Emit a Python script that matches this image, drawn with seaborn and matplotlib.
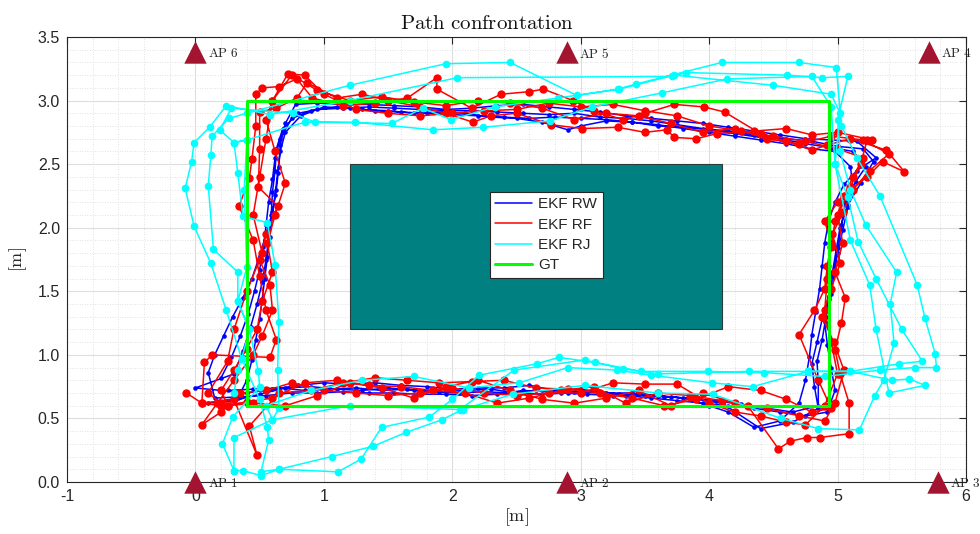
import numpy as np
import pandas as pd
import matplotlib
matplotlib.use("Agg")
import matplotlib.pyplot as plt
import matplotlib.patches as mpatches
from matplotlib.lines import Line2D
from matplotlib.ticker import MultipleLocator
import seaborn as sns

# ---------------- data ----------------
# EKF RW (blue) - four laps
rw_lap1_x = [0.25, 0.45, 0.65, 0.85, 1.05, 1.25, 1.45, 1.65, 1.85, 2.05, 2.25, 2.45, 2.65, 2.85, 3.05, 3.25, 3.45, 3.65, 3.85, 4.05, 4.25, 4.45, 4.65, 4.85,
             4.85, 4.84, 4.88, 4.91, 4.95, 4.98, 5.0, 5.03, 5.06, 5.14, 5.22,
             5.12, 4.95, 4.75, 4.55, 4.35, 4.15, 3.95, 3.75, 3.55, 3.35, 3.15, 2.95, 2.75, 2.55, 2.35, 2.15, 1.95, 1.75, 1.55, 1.35, 1.15, 0.95, 0.8,
             0.68, 0.63, 0.62, 0.6, 0.59, 0.57, 0.55, 0.52, 0.48, 0.43, 0.37, 0.3]
rw_lap1_y = [0.72, 0.73, 0.74, 0.72, 0.73, 0.74, 0.72, 0.73, 0.71, 0.70, 0.71, 0.70, 0.72, 0.70, 0.69, 0.68, 0.69, 0.67, 0.66, 0.64, 0.61, 0.58, 0.55, 0.60,
             0.78, 0.95, 1.12, 1.3, 1.48, 1.66, 1.84, 2.02, 2.2, 2.36, 2.48,
             2.6, 2.63, 2.66, 2.7, 2.73, 2.76, 2.78, 2.81, 2.84, 2.86, 2.87, 2.9, 2.89, 2.9, 2.91, 2.92, 2.92, 2.93, 2.94, 2.95, 2.94, 2.93, 2.9,
             2.78, 2.62, 2.45, 2.28, 2.1, 1.92, 1.75, 1.57, 1.4, 1.22, 1.03, 0.85]
rw_lap2_x = [0.0, 0.2, 0.4, 0.6, 0.8, 1.0, 1.2, 1.4, 1.6, 1.8, 2.0, 2.2, 2.4, 2.6, 2.8, 3.0, 3.2, 3.4, 3.6, 3.8, 4.0, 4.15, 4.35, 4.55, 4.7,
             4.75, 4.78, 4.8, 4.83, 4.86, 4.88, 4.9, 4.93, 4.98, 5.05, 5.15, 5.3,
             5.15, 4.95, 4.75, 4.55, 4.35, 4.15, 3.95, 3.75, 3.55, 3.35, 3.15, 2.95, 2.75, 2.55, 2.35, 2.15, 1.95, 1.75, 1.55, 1.35, 1.15, 0.95, 0.78,
             0.7, 0.66, 0.65, 0.63, 0.6, 0.55, 0.5, 0.44, 0.37, 0.29, 0.22, 0.15, 0.1]
rw_lap2_y = [0.74, 0.72, 0.7, 0.73, 0.76, 0.78, 0.77, 0.78, 0.76, 0.75, 0.73, 0.74, 0.74, 0.76, 0.72, 0.73, 0.7, 0.7, 0.68, 0.66, 0.6, 0.55, 0.43, 0.48, 0.62,
             0.8, 0.98, 1.16, 1.34, 1.52, 1.7, 1.88, 2.05, 2.2, 2.34, 2.45, 2.55,
             2.68, 2.69, 2.7, 2.73, 2.76, 2.79, 2.82, 2.84, 2.86, 2.88, 2.91, 2.93, 2.95, 2.97, 2.96, 2.94, 2.93, 2.95, 2.96, 2.97, 2.97, 2.98, 2.97,
             2.82, 2.65, 2.48, 2.3, 2.12, 1.95, 1.78, 1.6, 1.45, 1.3, 1.15, 1.0, 0.86]
rw_lap3_x = [0.15, 0.35, 0.55, 0.75, 0.95, 1.15, 1.35, 1.55, 1.75, 1.95, 2.15, 2.35, 2.55, 2.75, 2.95, 3.15, 3.35, 3.55, 3.75, 3.95, 4.15, 4.35, 4.55, 4.75, 4.92,
             4.98, 4.95, 4.92, 4.9, 4.93, 4.96, 5.0, 5.04, 5.08, 5.12, 5.1,
             4.98, 4.8, 4.6, 4.4, 4.2, 4.0, 3.8, 3.6, 3.4, 3.2, 3.0, 2.8, 2.6, 2.4, 2.2, 2.0, 1.8, 1.6, 1.4, 1.2, 1.0, 0.82,
             0.7, 0.66, 0.64, 0.62, 0.6, 0.58, 0.56, 0.54, 0.52, 0.5, 0.47, 0.44, 0.4, 0.33]
rw_lap3_y = [0.66, 0.67, 0.68, 0.7, 0.7, 0.71, 0.7, 0.7, 0.69, 0.69, 0.68, 0.69, 0.72, 0.71, 0.71, 0.7, 0.68, 0.66, 0.64, 0.62, 0.6, 0.58, 0.55, 0.52, 0.55,
             0.72, 0.9, 1.08, 1.26, 1.44, 1.62, 1.8, 1.98, 2.16, 2.32, 2.48,
             2.6, 2.62, 2.66, 2.69, 2.72, 2.75, 2.78, 2.81, 2.83, 2.85, 2.86, 2.87, 2.86, 2.87, 2.88, 2.89, 2.9, 2.91, 2.92, 2.94, 2.95, 2.88,
             2.75, 2.6, 2.43, 2.26, 2.1, 1.93, 1.77, 1.6, 1.44, 1.28, 1.12, 0.96, 0.8, 0.66]
rw_lap4_x = [0.1, 0.3, 0.5, 0.7, 0.9, 1.1, 1.3, 1.5, 1.7, 1.9, 2.1, 2.3, 2.5, 2.7, 2.9, 3.1, 3.3, 3.5, 3.7, 3.9, 4.1, 4.4, 4.65, 4.85,
             4.82, 4.8, 4.84, 4.88, 4.93, 4.96, 4.99, 5.02, 5.08, 5.18, 5.28,
             5.2, 5.0, 4.8, 4.6, 4.4, 4.2, 4.0, 3.8, 3.6, 3.4, 3.2, 3.0, 2.9, 2.7, 2.5, 2.3, 2.1, 1.9, 1.7, 1.5, 1.3, 1.1, 0.9, 0.75,
             0.66, 0.62, 0.6, 0.57, 0.55, 0.53, 0.5, 0.46, 0.41, 0.35, 0.28, 0.2]
rw_lap4_y = [0.62, 0.64, 0.69, 0.74, 0.75, 0.73, 0.72, 0.74, 0.72, 0.71, 0.72, 0.73, 0.7, 0.69, 0.7, 0.72, 0.69, 0.68, 0.67, 0.65, 0.62, 0.42, 0.47, 0.58,
             0.75, 0.93, 1.1, 1.28, 1.46, 1.65, 1.83, 2.0, 2.18, 2.35, 2.52,
             2.62, 2.64, 2.68, 2.7, 2.71, 2.74, 2.77, 2.79, 2.8, 2.83, 2.84, 2.8, 2.77, 2.83, 2.86, 2.87, 2.9, 2.91, 2.9, 2.92, 2.93, 2.95, 2.92, 2.86,
             2.7, 2.55, 2.38, 2.2, 2.02, 1.85, 1.67, 1.5, 1.32, 1.15, 0.98, 0.82]

# EKF RF (red) - four laps
rf_lap1_x = [-0.07, 0.05, 0.2, 0.4, 0.6, 0.85, 1.1, 1.35, 1.6, 1.85, 2.1, 2.35, 2.6, 2.85, 3.1, 3.35, 3.6, 3.85, 4.1, 4.3, 4.54, 4.63, 4.76, 4.86, 5.09,
             5.09, 5.02, 4.98, 5.03, 5.06, 4.98, 5.04, 5.0, 5.1, 5.23, 5.35, 5.52,
             5.38, 5.1, 4.92, 4.8, 4.6, 4.4, 4.12, 3.96, 3.73, 3.5, 3.33, 3.1, 2.94, 2.71, 2.6, 2.38, 2.15, 1.88, 1.88, 1.65, 1.4, 1.15, 0.91, 0.79, 0.65, 0.52,
             0.47, 0.47, 0.44, 0.42, 0.34, 0.45, 0.5, 0.55, 0.63, 0.58, 0.13, 0.07]
rf_lap1_y = [0.70, 0.62, 0.6, 0.63, 0.66, 0.78, 0.8, 0.76, 0.75, 0.72, 0.7, 0.62, 0.66, 0.72, 0.75, 0.62, 0.7, 0.68, 0.64, 0.6, 0.26, 0.32, 0.35, 0.35, 0.38,
             0.62, 0.85, 1.04, 1.25, 1.45, 1.65, 1.88, 2.1, 2.3, 2.40, 2.52, 2.44,
             2.61, 2.7, 2.65, 2.61, 2.68, 2.74, 2.91, 2.95, 2.97, 2.9, 2.85, 2.92, 3.0, 3.09, 3.07, 3.05, 2.94, 3.09, 3.18, 3.02, 2.98, 2.96, 3.02, 3.17, 3.11, 3.10,
             3.05, 2.8, 2.54, 2.39, 2.17, 1.9, 1.62, 1.35, 1.12, 0.98, 1.0, 0.94]
rf_lap2_x = [0.05, 0.3, 0.48, 0.42, 0.65, 0.9, 1.15, 1.4, 1.65, 1.9, 2.15, 2.4, 2.65, 2.9, 3.15, 3.4, 3.65, 3.9, 4.15, 4.4, 4.6, 4.8, 4.95,
             4.85, 4.7, 4.82, 4.9, 4.92, 4.95, 4.9, 5.0, 5.1, 5.18, 5.23, 5.27,
             5.0, 4.8, 4.6, 4.35, 4.06, 3.9, 3.73, 3.67, 3.5, 3.29, 3.01, 2.77, 2.5, 2.3, 2.16, 1.95, 1.75, 1.5, 1.3, 1.1, 0.87, 0.79, 0.63, 0.5,
             0.5, 0.49, 0.64, 0.55, 0.5, 0.58, 0.6, 0.52, 0.45, 0.3, 0.17, 0.05]
rf_lap2_y = [0.62, 0.65, 0.21, 0.44, 0.7, 0.72, 0.78, 0.82, 0.8, 0.78, 0.79, 0.8, 0.74, 0.73, 0.7, 0.66, 0.6, 0.65, 0.75, 0.72, 0.65, 0.55, 0.58,
             0.8, 1.16, 1.35, 1.52, 1.7, 1.88, 2.05, 2.2, 2.32, 2.5, 2.69, 2.69,
             2.75, 2.73, 2.78, 2.76, 2.74, 2.7, 2.71, 2.77, 2.75, 2.79, 2.78, 2.81, 2.9, 2.88, 2.83, 2.9, 2.95, 3.0, 3.05, 3.02, 3.14, 3.02, 2.94, 2.91,
             2.62, 2.32, 2.17, 1.95, 1.75, 1.55, 1.35, 1.15, 1.0, 0.8, 0.62, 0.45]
rf_lap3_x = [0.2, 0.35, 0.55, 0.75, 1.0, 1.25, 1.5, 1.75, 2.0, 2.25, 2.5, 2.75, 3.0, 3.25, 3.5, 3.75, 4.0, 4.2, 4.4, 4.6, 4.75, 4.9,
             5.0, 4.95, 4.9, 4.92, 4.95, 4.98, 5.05, 5.12, 5.2,
             5.0, 4.75, 4.5, 4.25, 4.0, 3.75, 3.5, 3.25, 3.0, 2.75, 2.5, 2.25, 2.0, 1.75, 1.5, 1.25, 1.0, 0.85, 0.72,
             0.6, 0.55, 0.5, 0.45, 0.52, 0.4, 0.3, 0.25, 0.1, 0.2]
rf_lap3_y = [0.55, 0.7, 0.72, 0.78, 0.72, 0.7, 0.68, 0.7, 0.74, 0.7, 0.68, 0.7, 0.7, 0.78, 0.77, 0.77, 0.62, 0.55, 0.52, 0.47, 0.45, 0.6,
             0.85, 1.1, 1.35, 1.6, 1.85, 2.05, 2.25, 2.4, 2.55,
             2.62, 2.68, 2.72, 2.76, 2.8, 2.88, 2.92, 2.97, 2.95, 2.98, 2.93, 2.92, 2.9, 2.88, 2.9, 2.93, 3.05, 3.2, 3.21,
             3.0, 2.7, 2.4, 2.1, 1.8, 1.5, 1.2, 0.95, 0.7, 0.62]
rf_lap4_x = [0.25, 0.45, 0.7, 0.95, 1.2, 1.45, 1.7, 1.95, 2.2, 2.45, 2.7, 2.95, 3.2, 3.45, 3.7, 3.95, 4.2, 4.45, 4.7, 4.9,
             4.98, 5.05, 4.97, 4.88, 4.95, 5.02, 4.96, 5.04, 5.12, 5.25, 5.4,
             5.2, 4.95, 4.7, 4.45, 4.2, 3.95, 3.7, 3.45, 3.2, 2.95, 2.7, 2.45, 2.2, 1.95, 1.7, 1.45, 1.2, 0.95, 0.75, 0.6,
             0.55, 0.62, 0.7, 0.62, 0.56, 0.6, 0.52, 0.48, 0.4, 0.3, 0.2, 0.25]
rf_lap4_y = [0.6, 0.62, 0.6, 0.68, 0.78, 0.74, 0.66, 0.75, 0.8, 0.72, 0.65, 0.62, 0.66, 0.72, 0.6, 0.7, 0.62, 0.58, 0.52, 0.48,
             0.62, 0.88, 1.1, 1.3, 1.52, 1.72, 1.95, 2.12, 2.3, 2.45, 2.58,
             2.69, 2.72, 2.66, 2.7, 2.78, 2.75, 2.82, 2.88, 2.9, 2.85, 2.94, 2.98, 3.0, 2.96, 2.99, 3.03, 3.0, 3.08, 3.2, 3.0,
             2.85, 2.6, 2.35, 2.1, 1.88, 1.65, 1.42, 1.2, 1.05, 0.88, 0.72, 0.6]

# EKF RJ (cyan) - four laps
rj_lap1_x = [0.30, 0.37, 0.51, 0.65, 1.06, 1.38, 1.64, 1.92, 2.08, 2.47, 3.03, 3.6, 4.03, 4.56, 4.85, 5.17, 5.29, 5.36, 5.44, 5.41, 5.46, 5.22, 5.1, 5.02, 5.0,
             5.08, 4.88, 4.61, 3.82, 3.71, 2.04, 1.2, 0.58, 0.24, 0.11, -0.01, -0.03, -0.08, -0.01, 0.12, 0.24, 0.36, 0.5, 0.56, 0.57, 0.51]
rj_lap1_y = [0.09, 0.09, 0.05, 0.10, 0.20, 0.28, 0.39, 0.49, 0.57, 0.69, 0.76, 0.70, 0.69, 0.50, 0.42, 0.41, 0.68, 0.80, 1.09, 1.40, 1.65, 2.02, 2.3, 2.6, 2.85,
             3.19, 3.18, 3.20, 3.22, 3.19, 3.18, 3.0, 2.89, 2.96, 2.79, 2.67, 2.52, 2.31, 2.01, 1.72, 1.35, 0.97, 0.65, 0.43, 0.33, 0.08]
rj_lap2_x = [0.65, 1.11, 1.29, 1.45, 1.82, 2.0, 2.21, 2.66, 2.83, 3.11, 3.47, 3.99, 4.43, 4.9, 5.33, 5.6, 5.77, 5.76, 5.68, 5.62, 5.33, 5.15, 5.03, 4.99, 4.7,
             4.1, 3.43, 3.29, 2.97, 2.45, 1.95, 1.2, 0.4, 0.26, 0.13, 0.12, 0.1, 0.14, 0.33, 0.33, 0.42, 0.49, 0.5, 0.29, 0.21, 0.30]
rj_lap2_y = [0.10, 0.08, 0.18, 0.43, 0.51, 0.65, 0.84, 0.93, 0.98, 0.94, 0.87, 0.87, 0.86, 0.83, 0.88, 0.9, 0.9, 1.01, 1.29, 1.55, 2.25, 2.55, 2.8, 3.26, 3.3,
             3.3, 3.13, 3.09, 3.04, 3.30, 3.29, 3.12, 2.9, 2.86, 2.72, 2.57, 2.33, 1.83, 1.65, 1.42, 1.2, 0.87, 0.75, 0.51, 0.30, 0.09]
rj_lap3_x = [0.30, 0.6, 1.2, 2.06, 2.48, 3.03, 3.33, 3.6, 4.31, 4.77, 5.1, 5.42, 5.56, 5.68, 5.4, 5.3, 5.25, 5.1, 4.98, 4.95,
             4.8, 4.14, 3.63, 3.09, 2.76, 2.24, 1.85, 1.24, 0.85, 0.4, 0.3, 0.33, 0.37, 0.56, 0.62, 0.65, 0.64, 0.65, 0.6]
rj_lap3_y = [0.35, 0.49, 0.6, 0.57, 0.88, 0.96, 0.89, 0.85, 0.87, 0.87, 0.87, 0.8, 0.81, 0.76, 0.7, 1.2, 1.55, 1.9, 2.5, 2.95,
             3.19, 3.17, 3.06, 2.95, 2.84, 2.79, 2.77, 2.83, 2.83, 2.69, 2.67, 2.43, 2.09, 2.04, 1.71, 1.26, 0.88, 0.58, 0.49]
rj_lap4_x = [0.55, 0.9, 1.3, 1.7, 2.13, 2.52, 2.9, 3.28, 3.55, 4.02, 4.34, 4.77, 5.1, 5.48, 5.66, 5.5, 5.3, 5.16, 5.08, 4.98,
             5.02, 4.95, 4.5, 3.73, 3.3, 2.82, 2.33, 1.99, 1.77, 1.53, 0.93, 0.76, 0.28, 0.19, 0.3, 0.4, 0.38, 0.4, 0.33, 0.42,
             0.36, 0.33, 0.3]
rj_lap4_y = [0.6, 0.72, 0.8, 0.83, 0.74, 0.78, 0.9, 0.88, 0.84, 0.78, 0.75, 0.87, 0.87, 0.93, 0.95, 1.2, 1.6, 1.89, 2.24, 2.5,
             2.9, 3.05, 3.12, 3.2, 3.09, 3.02, 2.95, 2.85, 2.94, 2.82, 2.83, 2.9, 2.94, 2.77, 2.67, 2.69, 2.3, 1.69, 1.42, 1.2,
             0.97, 0.88, 0.7]

# ground truth path and obstacle
gt_x = [0.4, 4.93, 4.93, 0.4, 0.4]
gt_y = [0.6, 0.6, 3.0, 3.0, 0.6]
obstacle_x = [1.2, 4.1]
obstacle_y = [1.2, 2.5]

# anchors
ap_names = ["AP 1", "AP 2", "AP 3", "AP 4", "AP 5", "AP 6"]
ap_x = [0.0, 2.89, 5.78, 5.71, 2.89, 0.0]
ap_y = [0.0, 0.0, 0.0, 3.38, 3.38, 3.38]

series_labels = ["EKF RW", "EKF RF", "EKF RJ", "GT"]

rw_x = rw_lap1_x + rw_lap2_x + rw_lap3_x + rw_lap4_x
rw_y = rw_lap1_y + rw_lap2_y + rw_lap3_y + rw_lap4_y
rf_x = rf_lap1_x + rf_lap2_x + rf_lap3_x + rf_lap4_x
rf_y = rf_lap1_y + rf_lap2_y + rf_lap3_y + rf_lap4_y
rj_x = rj_lap1_x + rj_lap2_x + rj_lap3_x + rj_lap4_x
rj_y = rj_lap1_y + rj_lap2_y + rj_lap3_y + rj_lap4_y

# ---------------- style ----------------
sns.set_style("white")
plt.rcParams["font.family"] = ["Liberation Sans", "DejaVu Sans"]
plt.rcParams["mathtext.fontset"] = "cm"
plt.rcParams["axes.unicode_minus"] = False

fig = plt.figure(figsize=(9.8, 5.34), dpi=100)
ax = fig.add_axes([67/980, 52/534, 899/980, 445/534])

c_rw = "#0000ff"
c_rf = "#ff0000"
c_rj = "#00ffff"
c_gt = "#00ff00"
c_ap = "#a2142f"

df_rw = pd.DataFrame({"x": rw_x, "y": rw_y})
df_rf = pd.DataFrame({"x": rf_x, "y": rf_y})
df_rj = pd.DataFrame({"x": rj_x, "y": rj_y})
df_gt = pd.DataFrame({"x": gt_x, "y": gt_y})

sns.lineplot(data=df_rw, x="x", y="y", sort=False, estimator=None, ax=ax,
             color=c_rw, lw=1.1, marker="o", markersize=3.3, markeredgewidth=0, zorder=3)
sns.lineplot(data=df_rf, x="x", y="y", sort=False, estimator=None, ax=ax,
             color=c_rf, lw=1.1, marker="o", markersize=6, markeredgewidth=0, zorder=3)
sns.lineplot(data=df_rj, x="x", y="y", sort=False, estimator=None, ax=ax,
             color=c_rj, lw=1.1, marker="o", markersize=5.5, markeredgewidth=0, zorder=3)
sns.lineplot(data=df_gt, x="x", y="y", sort=False, estimator=None, ax=ax,
             color=c_gt, lw=2.2, zorder=4)

ax.add_patch(mpatches.Rectangle((obstacle_x[0], obstacle_y[0]),
                                obstacle_x[1] - obstacle_x[0], obstacle_y[1] - obstacle_y[0],
                                facecolor="#008080", edgecolor="#2b3b3b", lw=0.8, zorder=5))

sns.scatterplot(x=ap_x, y=ap_y, ax=ax, marker="^", s=260, color=c_ap,
                edgecolor=c_ap, linewidth=0, zorder=6, clip_on=False)
for nm, xx, yy in zip(ap_names, ap_x, ap_y):
    ax.annotate(r"$\mathrm{" + nm.replace(" ", r"\ ") + "}$", (xx, yy), xytext=(9, -1),
                textcoords="offset points", fontsize=9.5, va="center", ha="left",
                color="#222222", zorder=7, annotation_clip=False)

ax.set_xlim(-1, 6)
ax.set_ylim(0, 3.5)
ax.xaxis.set_major_locator(MultipleLocator(1))
ax.yaxis.set_major_locator(MultipleLocator(0.5))
ax.xaxis.set_minor_locator(MultipleLocator(0.2))
ax.yaxis.set_minor_locator(MultipleLocator(0.1))
ax.grid(True, which="major", color="#dedede", lw=0.8, ls="-", zorder=0)
ax.grid(True, which="minor", color="#d8d8d8", lw=0.6, ls=(0, (1, 2)), zorder=0)
ax.set_axisbelow(True)
ax.tick_params(which="major", direction="in", length=5, width=0.8, top=True, right=True,
               labelsize=11.5, colors="#262626", pad=5)
ax.tick_params(which="minor", length=0, top=True, right=True)
for s in ax.spines.values():
    s.set_color("#262626")
    s.set_linewidth(0.8)

ax.set_title(r"$\mathrm{Path\ confrontation}$", fontsize=15, pad=6, color="#111111", x=0.467)
ax.set_xlabel(r"$[\mathrm{m}]$", fontsize=13, labelpad=2)
ax.set_ylabel(r"$[\mathrm{m}]$", fontsize=13, labelpad=6)

handles = [Line2D([0], [0], color=c_rw, lw=1.1),
           Line2D([0], [0], color=c_rf, lw=1.1),
           Line2D([0], [0], color=c_rj, lw=1.1),
           Line2D([0], [0], color=c_gt, lw=2.2)]
leg = ax.legend(handles, series_labels, loc="upper left", bbox_to_anchor=(0.47, 0.652),
                fontsize=11, frameon=True, fancybox=False, framealpha=1,
                edgecolor="#262626", borderpad=0.35, labelspacing=0.42,
                handlelength=2.4, handletextpad=0.45, borderaxespad=0)
leg.get_frame().set_linewidth(0.8)
leg.set_zorder(10)

fig.savefig("out.png", dpi=100)
